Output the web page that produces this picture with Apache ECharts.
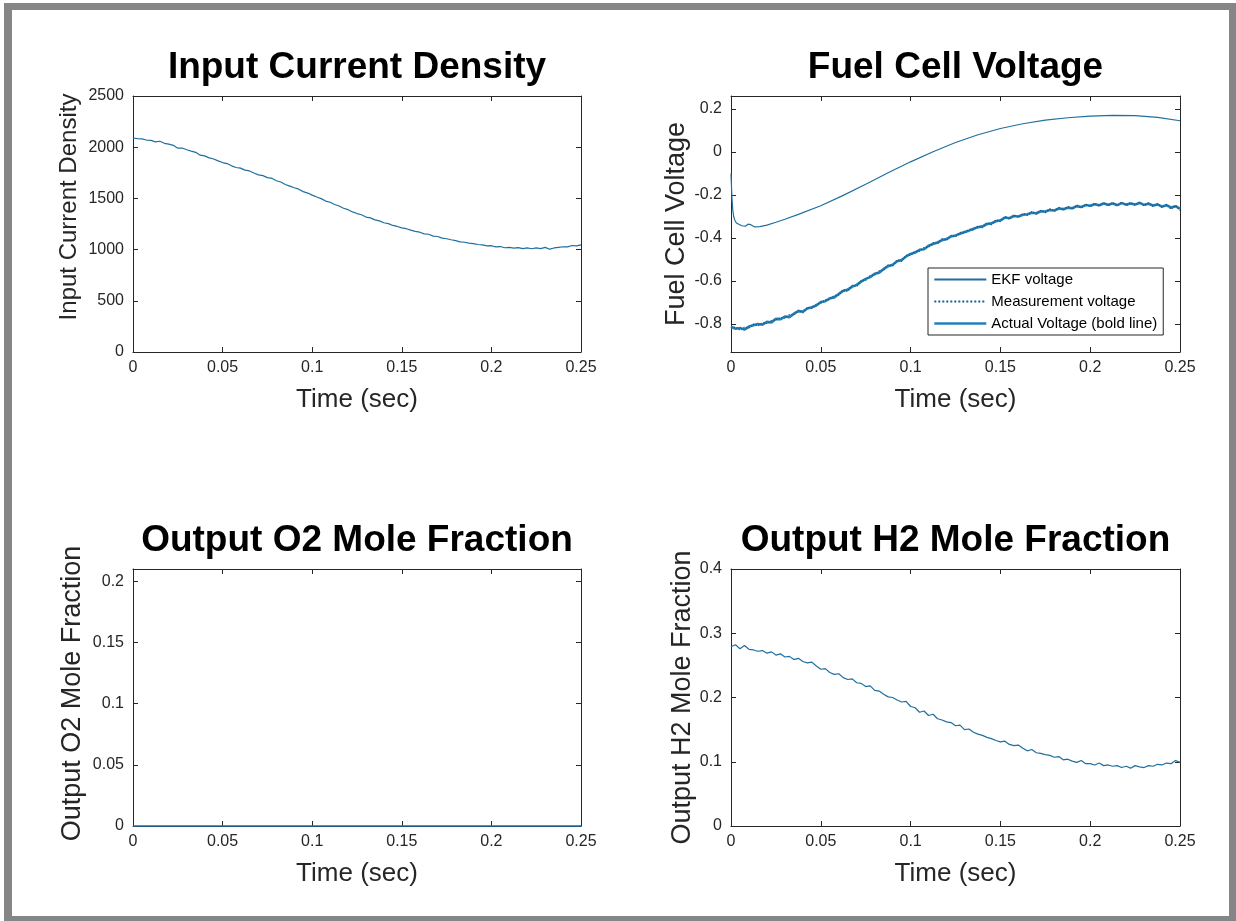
<!DOCTYPE html>
<html>
<head>
<meta charset="utf-8">
<title>Fuel cell EKF results</title>
<script src="https://cdn.jsdelivr.net/npm/echarts@6/dist/echarts.min.js"></script>
<style>
  html, body { margin: 0; padding: 0; background: #ffffff; }
  #chart { width: 1236px; height: 921px; }
</style>
</head>
<body>
<div id="chart"></div>
<script>
// ---- sampled data (time in seconds) ----
const time = [
  0, 0.0025, 0.005, 0.0075, 0.01, 0.0125, 0.015, 0.0175, 0.02, 0.0225,
  0.025, 0.0275, 0.03, 0.0325, 0.035, 0.0375, 0.04, 0.0425, 0.045, 0.0475,
  0.05, 0.0525, 0.055, 0.0575, 0.06, 0.0625, 0.065, 0.0675, 0.07, 0.0725,
  0.075, 0.0775, 0.08, 0.0825, 0.085, 0.0875, 0.09, 0.0925, 0.095, 0.0975,
  0.1, 0.1025, 0.105, 0.1075, 0.11, 0.1125, 0.115, 0.1175, 0.12, 0.1225,
  0.125, 0.1275, 0.13, 0.1325, 0.135, 0.1375, 0.14, 0.1425, 0.145, 0.1475,
  0.15, 0.1525, 0.155, 0.1575, 0.16, 0.1625, 0.165, 0.1675, 0.17, 0.1725,
  0.175, 0.1775, 0.18, 0.1825, 0.185, 0.1875, 0.19, 0.1925, 0.195, 0.1975,
  0.2, 0.2025, 0.205, 0.2075, 0.21, 0.2125, 0.215, 0.2175, 0.22, 0.2225,
  0.225, 0.2275, 0.23, 0.2325, 0.235, 0.2375, 0.24, 0.2425, 0.245, 0.2475,
  0.25
];

const currentDensity = [
  2090, 2083, 2082, 2070, 2066, 2052, 2058, 2038, 2030, 2018,
  1990, 1992, 1975, 1962, 1950, 1922, 1915, 1896, 1885, 1866,
  1850, 1840, 1818, 1802, 1796, 1776, 1768, 1748, 1730, 1722,
  1703, 1696, 1672, 1660, 1636, 1620, 1604, 1590, 1566, 1552,
  1532, 1514, 1498, 1474, 1462, 1440, 1426, 1404, 1390, 1368,
  1352, 1340, 1318, 1310, 1290, 1280, 1262, 1254, 1236, 1226,
  1212, 1204, 1190, 1178, 1170, 1154, 1150, 1132, 1128, 1112,
  1106, 1096, 1088, 1076, 1072, 1064, 1058, 1050, 1046, 1036,
  1038, 1026, 1030, 1018, 1022, 1014, 1020, 1010, 1016, 1008,
  1016, 1010, 1022, 1004, 1016, 1022, 1028, 1026, 1040, 1036,
  1046
];

const ekfTime = [
  0, 0.0005, 0.001, 0.0015, 0.002, 0.003, 0.004, 0.006, 0.008, 0.0095,
  0.011, 0.013, 0.016, 0.02, 0.025, 0.03, 0.0375, 0.05, 0.0625, 0.075,
  0.0875, 0.1, 0.1125, 0.125, 0.1375, 0.15, 0.1625, 0.175, 0.1875, 0.2,
  0.2125, 0.225, 0.2375, 0.25
];
const ekfVoltage = [
  -0.10, -0.21, -0.27, -0.30, -0.315, -0.33, -0.337, -0.343, -0.345, -0.336,
  -0.338, -0.348, -0.347, -0.340, -0.327, -0.313, -0.290, -0.250, -0.202, -0.150,
  -0.097, -0.046, 0.001, 0.044, 0.080, 0.109, 0.131, 0.148, 0.159, 0.166,
  0.170, 0.169, 0.161, 0.145
];

const measuredVoltage = [
  -0.820, -0.814, -0.828, -0.815, -0.818, -0.800, -0.808, -0.795, -0.797, -0.784,
  -0.780, -0.770, -0.772, -0.757, -0.758, -0.736, -0.748, -0.723, -0.727, -0.708,
  -0.703, -0.688, -0.686, -0.668, -0.665, -0.640, -0.648, -0.620, -0.625, -0.598,
  -0.596, -0.575, -0.572, -0.553, -0.550, -0.525, -0.530, -0.502, -0.508, -0.481,
  -0.480, -0.462, -0.461, -0.445, -0.442, -0.422, -0.426, -0.404, -0.411, -0.388,
  -0.394, -0.374, -0.378, -0.360, -0.362, -0.344, -0.352, -0.330, -0.338, -0.316,
  -0.324, -0.300, -0.312, -0.294, -0.304, -0.287, -0.295, -0.278, -0.289, -0.272,
  -0.282, -0.265, -0.276, -0.258, -0.270, -0.254, -0.266, -0.247, -0.260, -0.243,
  -0.254, -0.238, -0.252, -0.236, -0.250, -0.235, -0.251, -0.233, -0.249, -0.236,
  -0.248, -0.233, -0.250, -0.237, -0.253, -0.240, -0.258, -0.244, -0.266, -0.249,
  -0.272
];

const actualVoltage = [
  -0.812, -0.822, -0.818, -0.826, -0.812, -0.806, -0.800, -0.803, -0.790, -0.793,
  -0.776, -0.778, -0.765, -0.768, -0.752, -0.740, -0.742, -0.728, -0.722, -0.714,
  -0.698, -0.694, -0.680, -0.676, -0.660, -0.646, -0.640, -0.626, -0.618, -0.603,
  -0.590, -0.582, -0.566, -0.561, -0.544, -0.531, -0.524, -0.508, -0.502, -0.486,
  -0.474, -0.468, -0.455, -0.452, -0.436, -0.428, -0.421, -0.410, -0.405, -0.393,
  -0.388, -0.380, -0.372, -0.366, -0.357, -0.350, -0.346, -0.335, -0.332, -0.322,
  -0.318, -0.305, -0.308, -0.298, -0.300, -0.292, -0.290, -0.283, -0.285, -0.276,
  -0.277, -0.270, -0.272, -0.263, -0.266, -0.259, -0.262, -0.252, -0.256, -0.247,
  -0.250, -0.243, -0.248, -0.240, -0.246, -0.240, -0.247, -0.238, -0.245, -0.240,
  -0.244, -0.237, -0.246, -0.241, -0.249, -0.244, -0.254, -0.248, -0.258, -0.252,
  -0.264
];

const o2Time = [0, 0.25];
const o2Fraction = [0, 0];

const h2Fraction = [
  0.279, 0.282, 0.276, 0.281, 0.275, 0.274, 0.272, 0.273, 0.269, 0.271,
  0.266, 0.268, 0.263, 0.264, 0.259, 0.261, 0.256, 0.254, 0.255, 0.249,
  0.244, 0.245, 0.239, 0.236, 0.237, 0.231, 0.228, 0.229, 0.223, 0.222,
  0.217, 0.218, 0.211, 0.210, 0.205, 0.201, 0.200, 0.196, 0.193, 0.194,
  0.186, 0.184, 0.177, 0.179, 0.172, 0.174, 0.167, 0.165, 0.162, 0.161,
  0.156, 0.157, 0.150, 0.151, 0.146, 0.143, 0.141, 0.138, 0.136, 0.133,
  0.131, 0.132, 0.127, 0.125, 0.126, 0.121, 0.117, 0.119, 0.114, 0.113,
  0.111, 0.110, 0.107, 0.108, 0.103, 0.104, 0.101, 0.099, 0.102, 0.097,
  0.097, 0.095, 0.098, 0.094, 0.095, 0.093, 0.094, 0.091, 0.093, 0.090,
  0.094, 0.092, 0.091, 0.094, 0.093, 0.096, 0.095, 0.098, 0.097, 0.102,
  0.099
];

// ---- tick values ----
const timeTicks = [0, 0.05, 0.1, 0.15, 0.2, 0.25];
const currentTicks = [0, 500, 1000, 1500, 2000, 2500];
const voltageTicks = [-0.8, -0.6, -0.4, -0.2, 0, 0.2];
const o2Ticks = [0, 0.05, 0.1, 0.15, 0.2];
const h2Ticks = [0, 0.1, 0.2, 0.3, 0.4];

// ---- styling ----
const FONT = '"Liberation Sans", Arial, Helvetica, sans-serif';
const AXIS_COLOR = '#262626';
const LINE_COLOR = '#1f6f9f';
const BOLD_COLOR = '#2380b8';
const BOLD_WIDTH = 2.6;

const zip = (xs, ys) => xs.map((x, i) => [x, ys[i]]);

const panels = [
  { title: 'Input Current Density', yName: 'Input Current Density', yMin: 0, yMax: 2500, yTicks: currentTicks,
    grid: { left: 133, top: 96, width: 448, height: 256 }, yNameSize: 24, yNameGap: 52, yNameShift: 34 },
  { title: 'Fuel Cell Voltage', yName: 'Fuel Cell Voltage', yMin: -0.93, yMax: 0.26, yTicks: voltageTicks,
    grid: { left: 731, top: 96, width: 449, height: 256 }, yNameSize: 27, yNameGap: 38, yNameShift: 0 },
  { title: 'Output O2 Mole Fraction', yName: 'Output O2 Mole Fraction', yMin: 0, yMax: 0.21, yTicks: o2Ticks,
    grid: { left: 133, top: 569, width: 448, height: 257 }, yNameSize: 27, yNameGap: 47, yNameShift: 8 },
  { title: 'Output H2 Mole Fraction', yName: 'Output H2 Mole Fraction', yMin: 0, yMax: 0.4, yTicks: h2Ticks,
    grid: { left: 731, top: 569, width: 449, height: 257 }, yNameSize: 27, yNameGap: 35, yNameShift: 0 }
];

const lineOf = { show: true, onZero: false, lineStyle: { color: AXIS_COLOR, width: 1 } };
const tickOf = (vals) => ({ show: true, inside: true, length: 5, customValues: vals, lineStyle: { color: AXIS_COLOR, width: 1 } });
const labelOf = (vals, margin) => ({
  customValues: vals, fontSize: 16, color: AXIS_COLOR, fontFamily: FONT, margin: margin,
  formatter: (v) => String(v)
});

const grids = [], xAxes = [], yAxes = [], titles = [];
panels.forEach((p, gi) => {
  grids.push(Object.assign({ containLabel: false }, p.grid));
  titles.push({
    text: p.title, left: p.grid.left + p.grid.width / 2, top: p.grid.top - 47,
    textAlign: 'center', padding: 0,
    textStyle: { fontFamily: FONT, fontSize: 37, fontWeight: 'bold', color: '#000000' }
  });
  xAxes.push({
    type: 'value', gridIndex: gi, position: 'bottom', min: 0, max: 0.25,
    axisLine: lineOf, axisTick: tickOf(timeTicks), axisLabel: labelOf(timeTicks, 8),
    splitLine: { show: false },
    name: 'Time (sec)', nameLocation: 'middle', nameGap: 35,
    nameTextStyle: { fontFamily: FONT, fontSize: 26, color: AXIS_COLOR }
  });
  xAxes.push({
    type: 'value', gridIndex: gi, position: 'top', min: 0, max: 0.25,
    axisLine: lineOf, axisTick: tickOf(timeTicks), axisLabel: { show: false },
    splitLine: { show: false }
  });
  yAxes.push({
    type: 'value', gridIndex: gi, position: 'left', min: p.yMin, max: p.yMax,
    axisLine: lineOf, axisTick: tickOf(p.yTicks), axisLabel: labelOf(p.yTicks, 9),
    splitLine: { show: false },
    name: p.yName, nameLocation: 'middle', nameGap: p.yNameGap,
    nameTextStyle: { fontFamily: FONT, fontSize: p.yNameSize, color: AXIS_COLOR, padding: [0, 0, 0, p.yNameShift] }
  });
  yAxes.push({
    type: 'value', gridIndex: gi, position: 'right', min: p.yMin, max: p.yMax,
    axisLine: lineOf, axisTick: tickOf(p.yTicks), axisLabel: { show: false },
    splitLine: { show: false }
  });
});

const baseLine = (name, gi, data, style, color) => ({
  type: 'line', name: name, xAxisIndex: 2 * gi, yAxisIndex: 2 * gi,
  data: data, symbol: 'none', showSymbol: false, smooth: false,
  color: color, lineStyle: Object.assign({ color: color }, style),
  emphasis: { disabled: true }
});

const series = [
  baseLine('Input Current Density', 0, zip(time, currentDensity), { width: 1.2 }, LINE_COLOR),
  baseLine('Actual Voltage (bold line)', 1, zip(time, actualVoltage), { width: BOLD_WIDTH }, BOLD_COLOR),
  baseLine('Measurement voltage', 1, zip(time, measuredVoltage), { width: 1.4, type: 'dotted' }, '#1a5f88'),
  baseLine('EKF voltage', 1, zip(ekfTime, ekfVoltage), { width: 1.2 }, LINE_COLOR),
  Object.assign(baseLine('Output O2 Mole Fraction', 2, zip(o2Time, o2Fraction), { width: 1.6 }, LINE_COLOR), { clip: false }),
  baseLine('Output H2 Mole Fraction', 3, zip(time, h2Fraction), { width: 1.2 }, LINE_COLOR)
];

const option = {
  animation: false,
  backgroundColor: '#ffffff',
  graphic: [
    { type: 'rect', z: -100, silent: true, shape: { x: 4, y: 3, width: 1240, height: 930 }, style: { fill: '#868686' } },
    { type: 'rect', z: -99, silent: true, shape: { x: 12, y: 10, width: 1217, height: 906 }, style: { fill: '#ffffff' } }
  ],
  title: titles,
  legend: {
    data: [
      { name: 'EKF voltage' },
      { name: 'Measurement voltage' },
      { name: 'Actual Voltage (bold line)', lineStyle: { width: BOLD_WIDTH, color: BOLD_COLOR } }
    ],
    orient: 'vertical', left: 928, top: 268,
    itemWidth: 52, itemHeight: 14, itemGap: 7, padding: [4, 6, 4, 5],
    backgroundColor: '#ffffff', borderColor: AXIS_COLOR, borderWidth: 1, borderRadius: 0,
    selectedMode: false,
    itemStyle: { opacity: 0 },
    textStyle: { fontFamily: FONT, fontSize: 15, color: '#000000' }
  },
  grid: grids,
  xAxis: xAxes,
  yAxis: yAxes,
  series: series
};

const chart = echarts.init(document.getElementById('chart'), null, { renderer: 'canvas' });
chart.setOption(option);
</script>
</body>
</html>
